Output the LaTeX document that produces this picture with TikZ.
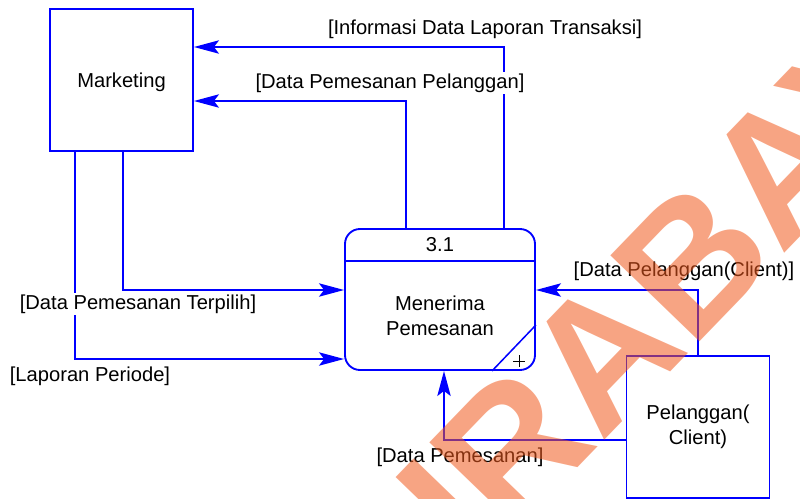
\documentclass[tikz,border=0pt]{standalone}
\usepackage{fontspec}
\setmainfont{Liberation Sans}
\usepackage{xcolor}
\usetikzlibrary{arrows.meta, positioning}

\definecolor{wmorange}{RGB}{240,90,30}

\begin{document}
\begin{tikzpicture}[
    x=0.03cm, y=-0.03cm,
    font=\fontsize{17.2}{21}\selectfont,
    entity/.style={
        rectangle,
        draw=blue,
        line width=1.6pt,
        minimum width=4.29cm,
        minimum height=4.26cm,
        align=center
    },
    proc/.style={
        rectangle,
        draw=blue,
        line width=1.6pt,
        rounded corners=0.45cm,
        minimum width=5.7cm,
        minimum height=4.23cm
    },
    flow/.style={
        draw=blue,
        line width=1.6pt,
        -{Stealth[length=0.75cm, width=0.4cm, inset=0.15cm]}
    },
    lbl/.style={fill=white, inner sep=1pt}
]
  \useasboundingbox (0,0) rectangle (800,499);

  \node[entity, text depth=0pt] (marketing) at (121.5,80) {Marketing};
  \node[entity] (pelanggan) at (698,427) {Pelanggan(\\Client)};
  \node[proc] (proses) at (440,299.5) {};
  \node (nomor) at (440,245) {3.1};
  \node[align=center] (nama) at (440,316) {Menerima\\Pemesanan};

  % garis pembagi dan tanda sub-proses
  \draw[blue, line width=1.6pt] (proses.west |- 0,261) -- (proses.east |- 0,261);
  \draw[blue, line width=1.3pt] (proses.south -| 492,0) -- (proses.east |- 0,325);
  \draw[line width=0.6pt] (513,361) -- (525,361) (519,355) -- (519,367);

  % aliran data
  \draw[flow] (proses.north -| 504,0) |- (marketing.east |- 0,47);
  \draw[flow] (proses.north -| 406,0) |- (marketing.east |- 0,101);
  \draw[flow] (marketing.south -| 123,0) |- (proses.west |- 0,290);
  \draw[flow] (marketing.south -| 75,0) |- (proses.west |- 0,359);
  \draw[flow] (pelanggan.north) |- (proses.east |- 0,290);
  \draw[flow] (pelanggan.west |- 0,440) -| (proses.south -| 444,0);

  \node[lbl] (lap) at (485,29) {[Informasi Data Laporan Transaksi]};
  \node[lbl] (psn) at (390,83) {[Data Pemesanan Pelanggan]};
  \node[lbl] (pilih) at (138,304) {[Data Pemesanan Terpilih]};
  \node[lbl] (periode) at (90,376) {[Laporan Periode]};
  \node[lbl] (client) at (684,271) {[Data Pelanggan(Client)]};
  \node[lbl] (pesan) at (460,457) {[Data Pemesanan]};

  % watermark
  \begin{scope}
    \clip (0,0) rectangle (800,499);
    \node[rotate=46, anchor=base west, inner sep=0pt, text=wmorange, opacity=0.55,
          font=\fontsize{153.6}{154}\selectfont\bfseries] (watermark) at (337,717) {SURABAYA};
  \end{scope}
\end{tikzpicture}
\end{document}
